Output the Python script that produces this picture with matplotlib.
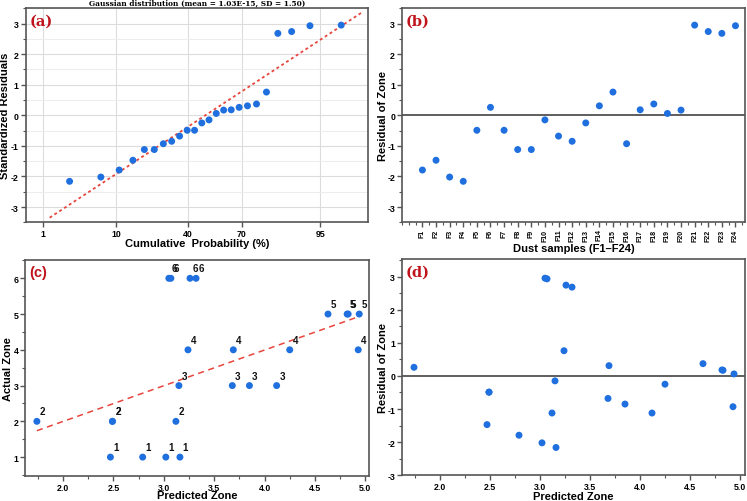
import numpy as np
import matplotlib
matplotlib.use("Agg")
import matplotlib.pyplot as plt
from matplotlib.ticker import MultipleLocator, FixedLocator, NullLocator, FormatStrFormatter
from statistics import NormalDist

plt.rcParams['font.family'] = ['Liberation Sans', 'DejaVu Sans']
plt.rcParams['axes.unicode_minus'] = False

# ---------------- data ----------------
samples = [f"F{i}" for i in range(1, 25)]
actual_zone = [1, 1, 1, 1, 2, 2, 2, 2, 3, 3, 3, 3,
               4, 4, 4, 4, 5, 5, 5, 5, 6, 6, 6, 6]
predicted_zone = [2.79, 2.47, 3.02, 3.16, 2.49, 1.74, 2.49, 3.12,
                  4.12, 3.15, 3.68, 3.85, 4.25, 3.69, 3.24, 4.93,
                  4.82, 4.63, 4.94, 4.83, 3.05, 3.26, 3.32, 3.07]
residuals = [-1.79, -1.47, -2.02, -2.16, -0.49, 0.26, -0.49, -1.12,
             -1.12, -0.15, -0.68, -0.85, -0.25, 0.31, 0.76, -0.93,
             0.18, 0.37, 0.06, 0.17, 2.95, 2.74, 2.68, 2.93]
prob_ticks = [1, 10, 40, 70, 95]
fit_mean = 0.0
fit_sd = 1.50
title_a = "Gaussian distribution (mean = 1.03E-15, SD = 1.50)"

# ---------------- style ----------------
BLUE = '#1f6fde'
RED = '#e8453c'
PANEL_RED = '#c0141c'
SPINE = '#555555'
W, H = 747, 502

fig = plt.figure(figsize=(W / 100, H / 100), dpi=100)


def frac(l, t, r, b):
    return [l / W, 1 - b / H, (r - l) / W, (b - t) / H]


ax_a = fig.add_axes(frac(25.7, 9.3, 367.7, 223.3))
ax_b = fig.add_axes(frac(402, 9.3, 745, 223.3))
ax_c = fig.add_axes(frac(25.3, 260.7, 369.3, 476.7))
ax_d = fig.add_axes(frac(402, 260.3, 745, 476.3))

for ax in (ax_a, ax_b, ax_c, ax_d):
    for s in ax.spines.values():
        s.set_color(SPINE)
        s.set_linewidth(1.2)
    ax.tick_params(which='major', direction='out', length=3.5, width=1,
                   color=SPINE, labelsize=6.3, pad=1.5)
    ax.tick_params(which='minor', direction='out', length=2, width=0.8,
                   color=SPINE)


def bold_ticks(ax):
    for lab in ax.get_xticklabels() + ax.get_yticklabels():
        lab.set_fontweight('bold')


def panel_label(ax, txt, family='DejaVu Serif'):
    ax.text(0.012, 0.975, txt, transform=ax.transAxes, ha='left', va='top',
            color=PANEL_RED, fontsize=10.5, fontweight='bold',
            family=family, zorder=10)


def labels(ax, xl, yl, xpos_px_below, ypos_px_left):
    h_px = ax.get_position().height * H
    w_px = ax.get_position().width * W
    ax.set_xlabel(xl, fontsize=8, fontweight='bold', va='center')
    ax.xaxis.set_label_coords(0.5, -xpos_px_below / h_px)
    ax.set_ylabel(yl, fontsize=8, fontweight='bold', va='center')
    ax.yaxis.set_label_coords(-ypos_px_left / w_px, 0.5)


nd = NormalDist()

# ---------------- (a) normal probability plot ----------------
n = len(residuals)
sorted_res = np.sort(residuals)
pp = [(i - 0.375) / (n + 0.25) for i in range(1, n + 1)]
zq = np.array([nd.inv_cdf(p) for p in pp])
ax_a.set_xlim(nd.inv_cdf(0.005), nd.inv_cdf(0.99))
ax_a.set_ylim(-3.5, 3.5)
ax_a.xaxis.set_major_locator(FixedLocator([nd.inv_cdf(p / 100) for p in prob_ticks]))
ax_a.set_xticklabels([str(p) for p in prob_ticks])
ax_a.xaxis.set_minor_locator(NullLocator())
ax_a.yaxis.set_major_locator(MultipleLocator(1))
ax_a.yaxis.set_minor_locator(MultipleLocator(0.5))
ax_a.grid(True, which='major', color='#dcdcdc', linewidth=0.8)
ax_a.grid(True, which='minor', axis='y', color='#ececec', linewidth=0.7)
ax_a.set_axisbelow(True)
zl = np.array([-2.233, 2.233])
ax_a.plot(zl, fit_mean + fit_sd * zl, color=RED, lw=1.3,
          linestyle=(0, (1.6, 1.6)), zorder=2)
ax_a.scatter(zq, sorted_res, s=25, color=BLUE, zorder=3, edgecolors='none')
labels(ax_a, "Cumulative  Probability (%)", "Standardized Residuals", 20.5, 20.5)
ax_a.text(0.5, 1 + 5.3 / 214, title_a, transform=ax_a.transAxes, ha='center',
          va='center', fontsize=5.3, fontweight='bold', family='DejaVu Serif')
panel_label(ax_a, "(a)")
bold_ticks(ax_a)

# ---------------- (b) residual vs sample ----------------
xs = np.arange(1, len(samples) + 1)
ax_b.set_xlim(-0.5, 24.7)
ax_b.set_ylim(-3.5, 3.5)
ax_b.axhline(0, color='#333333', lw=1.1, zorder=1)
ax_b.scatter(xs, residuals, s=25, color=BLUE, zorder=3, edgecolors='none')
ax_b.set_xticks(xs)
ax_b.set_xticklabels(samples, rotation=90, fontsize=5.0)
ax_b.tick_params(axis='x', which='major', pad=1)
ax_b.xaxis.set_minor_locator(MultipleLocator(0.5))
ax_b.yaxis.set_major_locator(MultipleLocator(1))
ax_b.yaxis.set_minor_locator(MultipleLocator(0.5))
labels(ax_b, "Dust samples (F1\u2013F24)", "Residual of Zone", 25.5, 19.5)
panel_label(ax_b, "(b)")
bold_ticks(ax_b)

# ---------------- (c) actual vs predicted ----------------
ax_c.set_xlim(1.625, 5.04)
ax_c.set_ylim(0.48, 6.52)
coef = np.polyfit(predicted_zone, actual_zone, 1)
xl = np.array([min(predicted_zone), max(predicted_zone)])
ax_c.plot(xl, np.polyval(coef, xl), color=RED, lw=1.1,
          linestyle=(0, (4, 3)), zorder=2)
ax_c.scatter(predicted_zone, actual_zone, s=25, color=BLUE, zorder=3,
             edgecolors='none')
for xp, ya in zip(predicted_zone, actual_zone):
    ax_c.annotate(str(ya), (xp, ya), xytext=(2, 3.5), textcoords='offset points',
                  ha='left', va='bottom', fontsize=7, fontweight='bold',
                  color='#111111')
ax_c.xaxis.set_major_locator(MultipleLocator(0.5))
ax_c.xaxis.set_minor_locator(MultipleLocator(0.25))
ax_c.yaxis.set_major_locator(MultipleLocator(1))
ax_c.yaxis.set_minor_locator(MultipleLocator(0.5))
ax_c.xaxis.set_major_formatter(FormatStrFormatter('%.1f'))
labels(ax_c, "Predicted Zone", "Actual Zone", 19.5, 17.5)
panel_label(ax_c, "(c)", family='Liberation Sans')
bold_ticks(ax_c)

# ---------------- (d) residual vs predicted ----------------
ax_d.set_xlim(1.62, 5.05)
ax_d.set_ylim(-3.0, 3.52)
ax_d.axhline(0, color='#333333', lw=1.1, zorder=1)
ax_d.scatter(predicted_zone, residuals, s=25, color=BLUE, zorder=3,
             edgecolors='none')
ax_d.xaxis.set_major_locator(MultipleLocator(0.5))
ax_d.xaxis.set_minor_locator(MultipleLocator(0.25))
ax_d.yaxis.set_major_locator(MultipleLocator(1))
ax_d.yaxis.set_minor_locator(MultipleLocator(0.5))
ax_d.xaxis.set_major_formatter(FormatStrFormatter('%.1f'))
labels(ax_d, "Predicted Zone", "Residual of Zone", 20.5, 18.5)
panel_label(ax_d, "(d)")
bold_ticks(ax_d)

fig.savefig("out.png", dpi=100)
